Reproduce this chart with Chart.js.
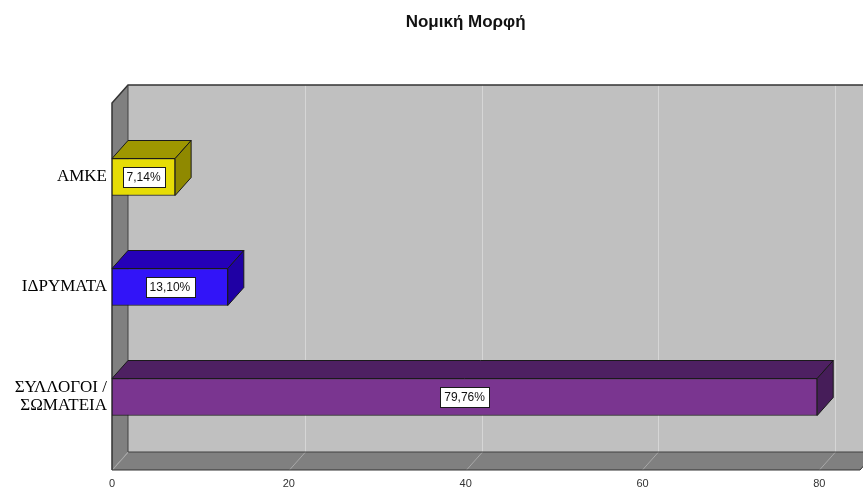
<!DOCTYPE html>
<html lang="el">
<head>
    <meta charset="UTF-8">
    <title>Νομική Μορφή</title>
    <style>
        body {
            margin: 0;
            background-color: #fff;
        }
        canvas {
            display: block;
        }
    </style>
</head>
<body>
    <canvas id="legalFormChart" width="863" height="491"></canvas>

    <script src="https://cdn.jsdelivr.net/npm/chart.js"></script>
    <script>
        // Δεδομένα
        const chartTitle = 'Νομική Μορφή';
        const categories = ['ΑΜΚΕ', 'ΙΔΡΥΜΑΤΑ', ['ΣΥΛΛΟΓΟΙ /', 'ΣΩΜΑΤΕΙΑ']];
        const percentages = [7.14, 13.10, 79.76];
        const valueLabels = ['7,14%', '13,10%', '79,76%'];
        const xTicks = [0, 20, 40, 60, 80];

        // Χρώματα ράβδων: μπροστά, πάνω, πλάι
        const frontColors = ['#e6dc06', '#3214f8', '#7a3590'];
        const topColors = ['#9e9700', '#2500b8', '#4e2062'];
        const sideColors = ['#8f8900', '#1f00a4', '#461d59'];

        // βάθος 3D
        const DX = 16;
        const DY = 18;
        const PAD_TOP = 19;
        const PAD_BOTTOM = 18;

        const box3d = {
            id: 'box3d',
            beforeDatasetsDraw(chart) {
                const ctx = chart.ctx;
                const a = chart.chartArea;
                const xs = chart.scales.x;
                const L = a.left, R = a.right;
                const T = a.top - PAD_TOP, B = a.bottom + PAD_BOTTOM;

                ctx.save();
                // πίσω τοίχος
                ctx.fillStyle = '#c0c0c0';
                ctx.fillRect(L + DX, T - DY, R - L, B - T);
                // αριστερός τοίχος
                ctx.fillStyle = '#808080';
                ctx.beginPath();
                ctx.moveTo(L, T);
                ctx.lineTo(L + DX, T - DY);
                ctx.lineTo(L + DX, B - DY);
                ctx.lineTo(L, B);
                ctx.closePath();
                ctx.fill();
                // δάπεδο
                ctx.beginPath();
                ctx.moveTo(L, B);
                ctx.lineTo(L + DX, B - DY);
                ctx.lineTo(R + DX, B - DY);
                ctx.lineTo(R, B);
                ctx.closePath();
                ctx.fill();

                // γραμμές πλέγματος
                ctx.lineWidth = 1;
                xTicks.forEach(v => {
                    const x = Math.round(xs.getPixelForValue(v)) + 0.5;
                    if (v > 0) {
                        ctx.strokeStyle = '#d6d6d6';
                        ctx.beginPath();
                        ctx.moveTo(x + DX, T - DY);
                        ctx.lineTo(x + DX, B - DY);
                        ctx.stroke();
                    }
                    ctx.strokeStyle = '#a8a8a8';
                    ctx.beginPath();
                    ctx.moveTo(x, B);
                    ctx.lineTo(x + DX, B - DY);
                    ctx.stroke();
                });

                // ακμές
                ctx.strokeStyle = '#333';
                ctx.lineWidth = 1.5;
                ctx.beginPath();
                ctx.moveTo(L, B);
                ctx.lineTo(L, T);
                ctx.lineTo(L + DX, T - DY);
                ctx.lineTo(R + DX + 20, T - DY);
                ctx.stroke();
                ctx.lineWidth = 1;
                ctx.strokeStyle = '#404040';
                ctx.beginPath();
                ctx.moveTo(L + DX, T - DY);
                ctx.lineTo(L + DX, B - DY);
                ctx.lineTo(R + DX + 20, B - DY);
                ctx.stroke();
                ctx.strokeStyle = '#333';
                ctx.beginPath();
                ctx.moveTo(L, B);
                ctx.lineTo(R, B);
                ctx.lineTo(R + DX, B - DY);
                ctx.stroke();
                ctx.restore();
            },
            afterDatasetsDraw(chart) {
                const ctx = chart.ctx;
                const meta = chart.getDatasetMeta(0);
                ctx.save();
                ctx.lineWidth = 1;
                ctx.strokeStyle = '#1a1a1a';
                meta.data.forEach((bar, i) => {
                    const p = bar.getProps(['x', 'y', 'base', 'height'], true);
                    const top = p.y - p.height / 2;
                    const bottom = p.y + p.height / 2;
                    // πάνω πλευρά
                    ctx.fillStyle = topColors[i];
                    ctx.beginPath();
                    ctx.moveTo(p.base, top);
                    ctx.lineTo(p.base + DX, top - DY);
                    ctx.lineTo(p.x + DX, top - DY);
                    ctx.lineTo(p.x, top);
                    ctx.closePath();
                    ctx.fill();
                    ctx.stroke();
                    // δεξιά πλευρά
                    ctx.fillStyle = sideColors[i];
                    ctx.beginPath();
                    ctx.moveTo(p.x, top);
                    ctx.lineTo(p.x + DX, top - DY);
                    ctx.lineTo(p.x + DX, bottom - DY);
                    ctx.lineTo(p.x, bottom);
                    ctx.closePath();
                    ctx.fill();
                    ctx.stroke();

                    // ετικέτα τιμής
                    ctx.font = '12px "Liberation Sans", Arial, sans-serif';
                    ctx.textAlign = 'center';
                    ctx.textBaseline = 'middle';
                    const cx = (p.base + p.x) / 2;
                    const w = ctx.measureText(valueLabels[i]).width + 8;
                    const h = 20;
                    ctx.fillStyle = '#fff';
                    ctx.fillRect(Math.round(cx - w / 2) + 0.5, Math.round(p.y - h / 2) + 0.5, Math.round(w), h);
                    ctx.strokeStyle = '#1a1a1a';
                    ctx.strokeRect(Math.round(cx - w / 2) + 0.5, Math.round(p.y - h / 2) + 0.5, Math.round(w), h);
                    ctx.fillStyle = '#111';
                    ctx.fillText(valueLabels[i], cx, p.y + 1);
                });
                ctx.restore();
            },
            afterDraw(chart) {
                const ctx = chart.ctx;
                const xs = chart.scales.x;
                ctx.save();
                ctx.font = 'bold 17px "Liberation Sans", Arial, sans-serif';
                ctx.fillStyle = '#111';
                ctx.textAlign = 'center';
                ctx.textBaseline = 'middle';
                const cx = (xs.getPixelForValue(0) + xs.getPixelForValue(80)) / 2;
                ctx.fillText(chartTitle, cx, 22);
                ctx.restore();
            }
        };

        const ctx = document.getElementById('legalFormChart').getContext('2d');
        const legalFormChart = new Chart(ctx, {
            type: 'bar',
            data: {
                labels: categories,
                datasets: [{
                    data: percentages,
                    backgroundColor: frontColors,
                    borderColor: '#1a1a1a',
                    borderWidth: 1,
                    borderSkipped: false,
                    barThickness: 37
                }]
            },
            options: {
                indexAxis: 'y',
                responsive: false,
                animation: false,
                layout: {
                    padding: { top: 122, right: 3, left: 0, bottom: 0 }
                },
                plugins: {
                    legend: { display: false },
                    tooltip: { enabled: false }
                },
                scales: {
                    x: {
                        min: 0,
                        max: 84.6,
                        grid: { display: false, drawTicks: false },
                        border: { display: false },
                        afterBuildTicks(scale) {
                            scale.ticks = xTicks.map(v => ({ value: v }));
                        },
                        afterFit(scale) {
                            scale.height = 39;
                        },
                        ticks: {
                            padding: 25,
                            color: '#333',
                            font: { family: '"Liberation Sans", Arial, sans-serif', size: 11 },
                            maxRotation: 0
                        }
                    },
                    y: {
                        grid: { display: false, drawTicks: false },
                        border: { display: false },
                        afterFit(scale) {
                            scale.width = 112;
                        },
                        ticks: {
                            padding: 5,
                            color: '#000',
                            font: { family: '"Liberation Serif", "Times New Roman", serif', size: 17, lineHeight: 1.06 }
                        }
                    }
                }
            },
            plugins: [box3d]
        });
    </script>
</body>
</html>
